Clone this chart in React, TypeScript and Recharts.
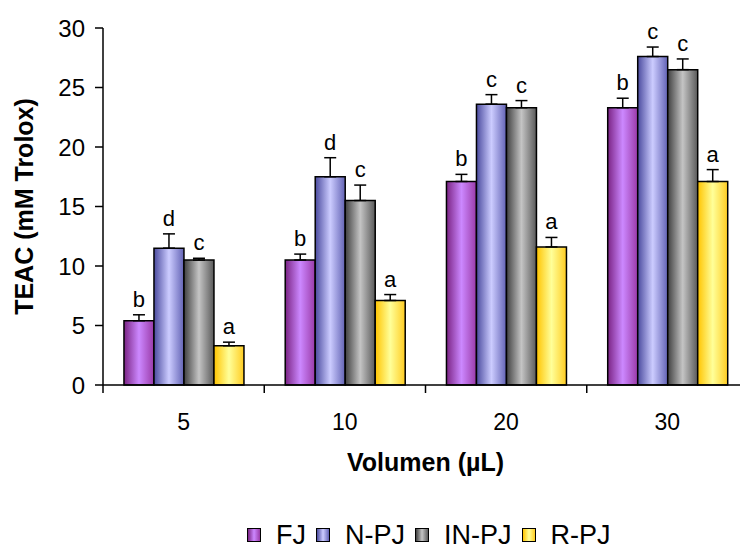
import {
    BarChart,
    Bar,
    XAxis,
    YAxis,
    ErrorBar,
    LabelList,
    Legend
} from 'recharts';

const volumes = ['5', '10', '20', '30'];

const fj = [5.4, 10.5, 17.1, 23.3];
const fjErr = [0.5, 0.5, 0.6, 0.8];
const fjLetters = ['b', 'b', 'b', 'b'];

const npj = [11.5, 17.5, 23.6, 27.6];
const npjErr = [1.2, 1.6, 0.8, 0.8];
const npjLetters = ['d', 'd', 'c', 'c'];

const inpj = [10.5, 15.5, 23.3, 26.5];
const inpjErr = [0.15, 1.3, 0.6, 0.9];
const inpjLetters = ['c', 'c', 'c', 'c'];

const rpj = [3.3, 7.1, 11.6, 17.1];
const rpjErr = [0.3, 0.5, 0.8, 1.0];
const rpjLetters = ['a', 'a', 'a', 'a'];

const yTicks = [0, 5, 10, 15, 20, 25, 30];

const data = volumes.map((v, i) => ({
    vol: v,
    FJ: fj[i], fjErr: fjErr[i],
    NPJ: npj[i], npjErr: npjErr[i],
    INPJ: inpj[i], inpjErr: inpjErr[i],
    RPJ: rpj[i], rpjErr: rpjErr[i]
}));

const FONT = '"Liberation Sans", Arial, sans-serif';

// gradient stops: edge, center, edge
const series = [
    { key: 'FJ', name: 'FJ', id: 'gFJ', stops: ['#7a2383', '#cc88ff', '#9a3aa8'], err: fjErr, letters: fjLetters },
    { key: 'NPJ', name: 'N-PJ', id: 'gNPJ', stops: ['#4a4a9e', '#ccccff', '#6262b4'], err: npjErr, letters: npjLetters },
    { key: 'INPJ', name: 'IN-PJ', id: 'gINPJ', stops: ['#404040', '#c4c4c4', '#5a5a5a'], err: inpjErr, letters: inpjLetters },
    { key: 'RPJ', name: 'R-PJ', id: 'gRPJ', stops: ['#ffc400', '#ffff99', '#ffcc22'], err: rpjErr, letters: rpjLetters }
];

const errKeys: Record<string, string> = { FJ: 'fjErr', NPJ: 'npjErr', INPJ: 'inpjErr', RPJ: 'rpjErr' };

function XTick(props: any) {
    const { x, y, payload } = props;
    const off = payload && payload.offset != null ? payload.offset : 0;
    return (
        <g>
            <line x1={x - off} y1={y} x2={x - off} y2={y + 8} stroke="#000" strokeWidth={1.5} />
            <text x={x} y={y + 45} textAnchor="middle" fontFamily={FONT} fontSize={23} fill="#000">
                {payload.value}
            </text>
        </g>
    );
}

function makeLetter(s: typeof series[number]) {
    return (props: any) => {
        const { x, y, width, height, value, index } = props;
        const perUnit = value ? height / value : 0;
        const top = y - s.err[index] * perUnit;
        return (
            <text x={x + width / 2} y={top - 8} textAnchor="middle" fontFamily={FONT} fontSize={22} fill="#000">
                {s.letters[index]}
            </text>
        );
    };
}

function LegendBox() {
    return (
        <div style={{ display: 'flex', alignItems: 'center', paddingLeft: 247, height: 30, transform: 'translateY(2px)', fontFamily: FONT, fontSize: 27, lineHeight: 1, color: '#000' }}>
            {series.map((s) => (
                <div key={s.key} style={{ display: 'flex', alignItems: 'center', marginRight: 10 }}>
                    <span style={{
                        width: 12, height: 12, border: '1.5px solid #000', marginRight: 15,
                        background: `linear-gradient(to right, ${s.stops[0]}, ${s.stops[1]}, ${s.stops[2]})`
                    }} />
                    <span>{s.name}</span>
                </div>
            ))}
        </div>
    );
}

export default function App() {
    return (
        <div style={{ position: 'absolute', left: 0, top: 0, width: 740, height: 548, overflow: 'hidden', background: '#fff' }}>
            <BarChart
                width={748}
                height={548}
                data={data}
                margin={{ top: 28, right: 0, left: 0, bottom: 0 }}
                barCategoryGap="13%"
                barGap={0}
            >
                <defs>
                    {series.map((s) => (
                        <linearGradient key={s.id} id={s.id} x1="0" y1="0" x2="1" y2="0">
                            <stop offset="0%" stopColor={s.stops[0]} />
                            <stop offset="50%" stopColor={s.stops[1]} />
                            <stop offset="100%" stopColor={s.stops[2]} />
                        </linearGradient>
                    ))}
                </defs>
                <XAxis
                    dataKey="vol"
                    stroke="#000"
                    strokeWidth={1.5}
                    tickLine={false}
                    tickSize={0}
                    tickMargin={0}
                    height={133}
                    tick={<XTick />}
                    interval={0}
                    label={{ value: 'Volumen (\u00b5L)', position: 'insideTop', offset: 68, fill: '#000', fontFamily: FONT, fontSize: 25, fontWeight: 'bold' }}
                />
                <YAxis
                    domain={[0, 30]}
                    ticks={yTicks}
                    width={103}
                    stroke="#000"
                    strokeWidth={1.5}
                    tickSize={8}
                    tickMargin={10}
                    tick={{ fill: '#000', fontFamily: FONT, fontSize: 24 }}
                    label={{ value: 'TEAC (mM Trolox)', angle: -90, position: 'center', dx: -27, fill: '#000', fontFamily: FONT, fontSize: 25, fontWeight: 'bold' }}
                />
                {series.map((s) => (
                    <Bar
                        key={s.key}
                        dataKey={s.key}
                        name={s.name}
                        fill={`url(#${s.id})`}
                        stroke="#000"
                        strokeWidth={1.5}
                        isAnimationActive={false}
                    >
                        <ErrorBar
                            dataKey={(d: any) => [0, d[errKeys[s.key]]]}
                            width={6}
                            stroke="#000"
                            strokeWidth={1.5}
                            direction="y"
                        />
                        <LabelList dataKey={s.key} content={makeLetter(s)} />
                    </Bar>
                ))}
                <Legend verticalAlign="bottom" height={30} content={() => <LegendBox />} />
            </BarChart>
        </div>
    );
}
